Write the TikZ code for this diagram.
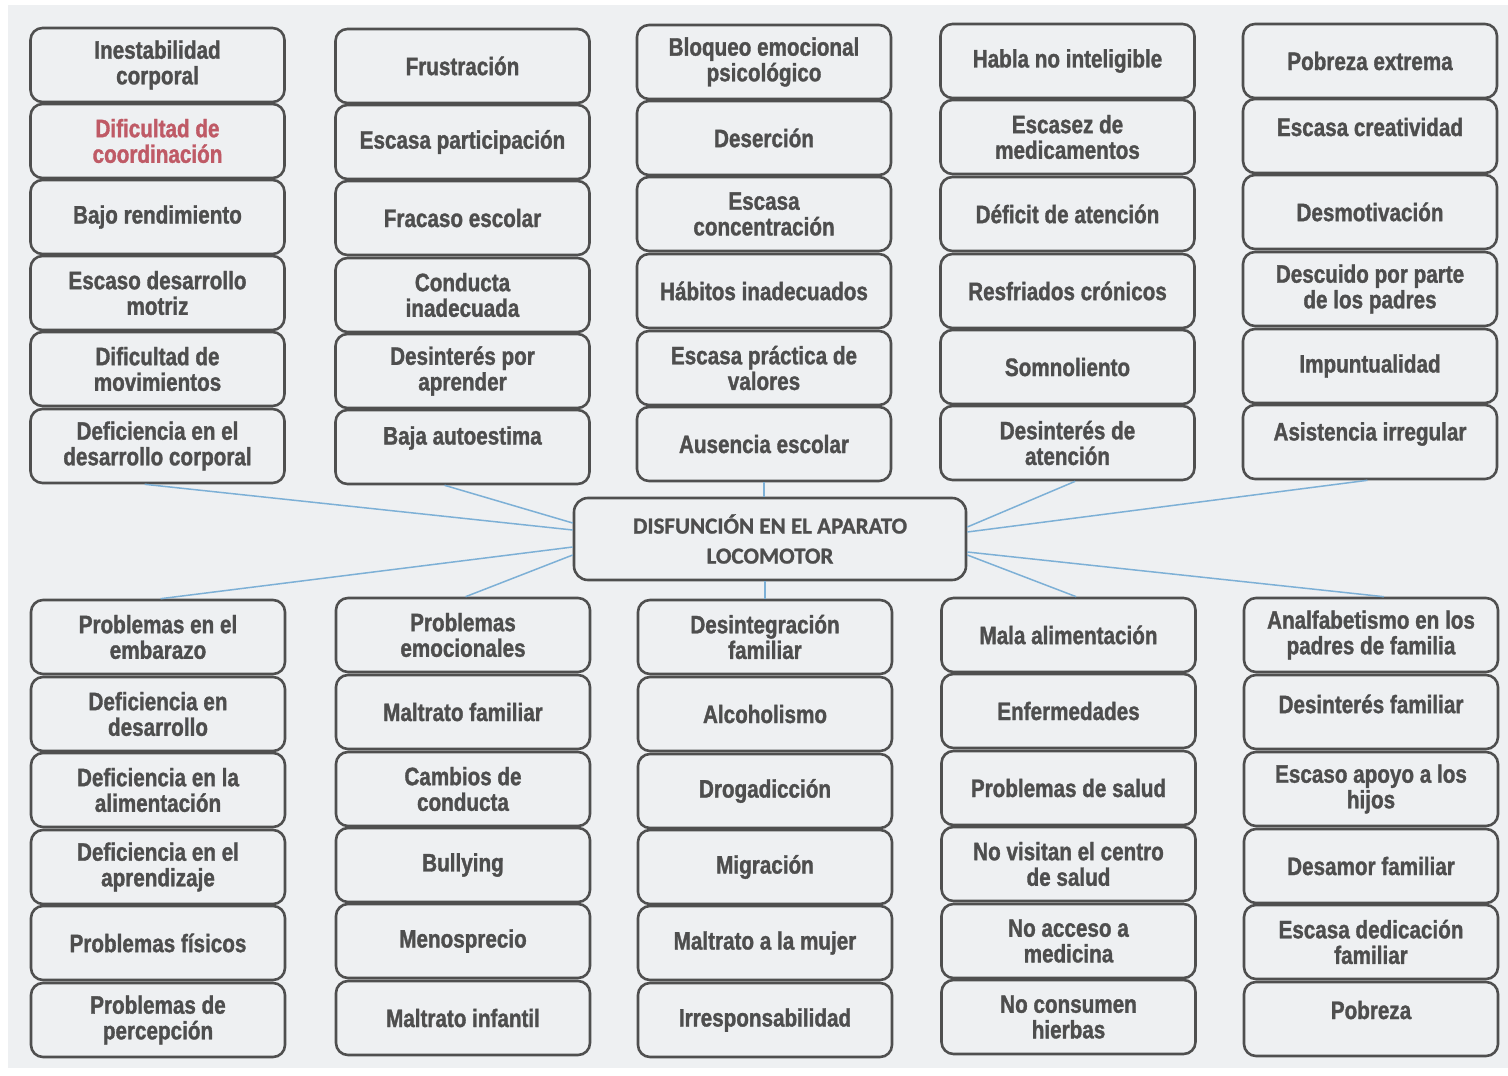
\documentclass[tikz,border=0pt]{standalone}
\usepackage{fontspec}
\usetikzlibrary{calc}
\newfontfamily\boxfont{Liberation Sans Bold}[FakeStretch=0.82,FakeBold=1.3]
\newfontfamily\cfont{Carlito Bold}[FakeBold=1.0]
\definecolor{bg}{HTML}{EEF0F2}
\definecolor{edge}{HTML}{4F4F4F}
\definecolor{txtgray}{HTML}{4E4E4E}
\definecolor{redtxt}{HTML}{BF5A66}
\definecolor{conn}{HTML}{7DB0D6}
\tikzset{
  box/.style={draw=edge, line width=1.3pt, rounded corners=6pt, fill=bg,
    minimum width=127pt, minimum height=37pt, inner sep=0pt},
  txt/.style={text=txtgray, inner sep=0pt, align=center,
    font=\boxfont\fontsize{12.6pt}{12.8pt}\selectfont},
  redt/.style={text=redtxt},
  mainbox/.style={draw=edge, line width=1.3pt, rounded corners=7pt, fill=bg,
    minimum width=196pt, minimum height=41pt, inner sep=0pt, align=center,
    text=txtgray, font=\cfont\fontsize{11.5pt}{15pt}\selectfont},
  link/.style={draw=conn, line width=0.75pt}
}
% #1 text shift (px, up), #2 name, #3 x, #4 y, #5 text
\newcommand{\boxnode}[5][0]{%
  \node[box] (#2) at (#3,#4) {};
  \node[txt] (#2t) at ([yshift=#1*0.5pt]#2.center) {#5};}
\newcommand{\redboxnode}[4]{%
  \node[box] (#1) at (#2,#3) {};
  \node[txt,redt] (#1t) at (#1.center) {#4};}
\begin{document}
\begin{tikzpicture}[x=0.5pt,y=-0.5pt]
\useasboundingbox (0,0) rectangle (1508,1075);
\fill[white] (0,0) rectangle (1508,1075);
\fill[bg] (8,5) rectangle (1508,1068);

\node[mainbox] (c) at (770,539) {DISFUNCIÓN EN EL APARATO\\LOCOMOTOR};

% column 1 top
\boxnode{t11}{157.5}{65}{Inestabilidad\\corporal}
\redboxnode{t12}{157.5}{141}{Dificultad de\\coordinación}
\boxnode{t13}{157.5}{217}{Bajo rendimiento}
\boxnode{t14}{157.5}{293}{Escaso desarrollo\\motriz}
\boxnode{t15}{157.5}{369}{Dificultad de\\movimientos}
\boxnode{t16}{157.5}{446}{Deficiencia en el\\desarrollo corporal}
% column 2 top
\boxnode{t21}{462.5}{66}{Frustración}
\boxnode{t22}{462.5}{142}{Escasa participación}
\boxnode{t23}{462.5}{218}{Fracaso escolar}
\boxnode{t24}{462.5}{295}{Conducta\\inadecuada}
\boxnode{t25}{462.5}{371}{Desinterés por\\aprender}
\boxnode[9]{t26}{462.5}{447}{Baja autoestima}
% column 3 top
\boxnode{t31}{764}{62}{Bloqueo emocional\\psicológico}
\boxnode{t32}{764}{138}{Deserción}
\boxnode{t33}{764}{214}{Escasa\\concentración}
\boxnode{t34}{764}{291}{Hábitos inadecuados}
\boxnode{t35}{764}{368}{Escasa práctica de\\valores}
\boxnode{t36}{764}{444}{Ausencia escolar}
% column 4 top
\boxnode{t41}{1067.5}{61}{Habla no inteligible}
\boxnode{t42}{1067.5}{137}{Escasez de\\medicamentos}
\boxnode{t43}{1067.5}{214}{Déficit de atención}
\boxnode{t44}{1067.5}{291}{Resfriados crónicos}
\boxnode{t45}{1067.5}{367}{Somnoliento}
\boxnode{t46}{1067.5}{443}{Desinterés de\\atención}
% column 5 top
\boxnode{t51}{1370}{61}{Pobreza extrema}
\boxnode[9]{t52}{1370}{136}{Escasa creatividad}
\boxnode{t53}{1370}{212}{Desmotivación}
\boxnode{t54}{1370}{289}{Descuido por parte\\de los padres}
\boxnode{t55}{1370}{366}{Impuntualidad}
\boxnode[8]{t56}{1370}{442}{Asistencia irregular}

% column 1 bottom
\boxnode{b11}{158}{637}{Problemas en el\\embarazo}
\boxnode{b12}{158}{714}{Deficiencia en\\desarrollo}
\boxnode{b13}{158}{790}{Deficiencia en la\\alimentación}
\boxnode{b14}{158}{867}{Deficiencia en el\\aprendizaje}
\boxnode{b15}{158}{943}{Problemas físicos}
\boxnode{b16}{158}{1020}{Problemas de\\percepción}
% column 2 bottom
\boxnode{b21}{463}{635}{Problemas\\emocionales}
\boxnode{b22}{463}{712}{Maltrato familiar}
\boxnode{b23}{463}{789}{Cambios de\\conducta}
\boxnode{b24}{463}{865}{Bullying}
\boxnode{b25}{463}{941}{Menosprecio}
\boxnode{b26}{463}{1018}{Maltrato infantil}
% column 3 bottom
\boxnode{b31}{765}{637}{Desintegración\\familiar}
\boxnode{b32}{765}{714}{Alcoholismo}
\boxnode{b33}{765}{791}{Drogadicción}
\boxnode{b34}{765}{867}{Migración}
\boxnode{b35}{765}{943}{Maltrato a la mujer}
\boxnode{b36}{765}{1020}{Irresponsabilidad}
% column 4 bottom
\boxnode{b41}{1068.5}{635}{Mala alimentación}
\boxnode{b42}{1068.5}{711}{Enfermedades}
\boxnode{b43}{1068.5}{788}{Problemas de salud}
\boxnode{b44}{1068.5}{864}{No visitan el centro\\de salud}
\boxnode{b45}{1068.5}{941}{No acceso a\\medicina}
\boxnode{b46}{1068.5}{1017}{No consumen\\hierbas}
% column 5 bottom
\boxnode{b51}{1371}{635}{Analfabetismo en los\\padres de familia}
\boxnode[8]{b52}{1371}{712}{Desinterés familiar}
\boxnode{b53}{1371}{789}{Escaso apoyo a los\\hijos}
\boxnode{b54}{1371}{866}{Desamor familiar}
\boxnode{b55}{1371}{942}{Escasa dedicación\\familiar}
\boxnode[9]{b56}{1371}{1019}{Pobreza}

% connectors
\draw[link] ($(t16.south west)!0.45!(t16.south east)$) -- ($(c.west)+(0,-9)$);
\draw[link] ($(t26.south west)!0.43!(t26.south east)$) -- ($(c.west)+(0,-16)$);
\draw[link] (t36.south) -- (t36.south |- c.north);
\draw[link] ($(t46.south west)!0.53!(t46.south east)$) -- ($(c.east)+(0,-12)$);
\draw[link] ($(t56.south west)!0.49!(t56.south east)$) -- ($(c.east)+(0,-7)$);
\draw[link] ($(b11.north west)!0.51!(b11.north east)$) -- ($(c.west)+(0,8)$);
\draw[link] ($(b21.north west)!0.51!(b21.north east)$) -- ($(c.west)+(0,16)$);
\draw[link] (b31.north) -- (b31.north |- c.south);
\draw[link] ($(b41.north west)!0.53!(b41.north east)$) -- ($(c.east)+(0,16)$);
\draw[link] ($(b51.north west)!0.55!(b51.north east)$) -- ($(c.east)+(0,13)$);
\end{tikzpicture}
\end{document}
